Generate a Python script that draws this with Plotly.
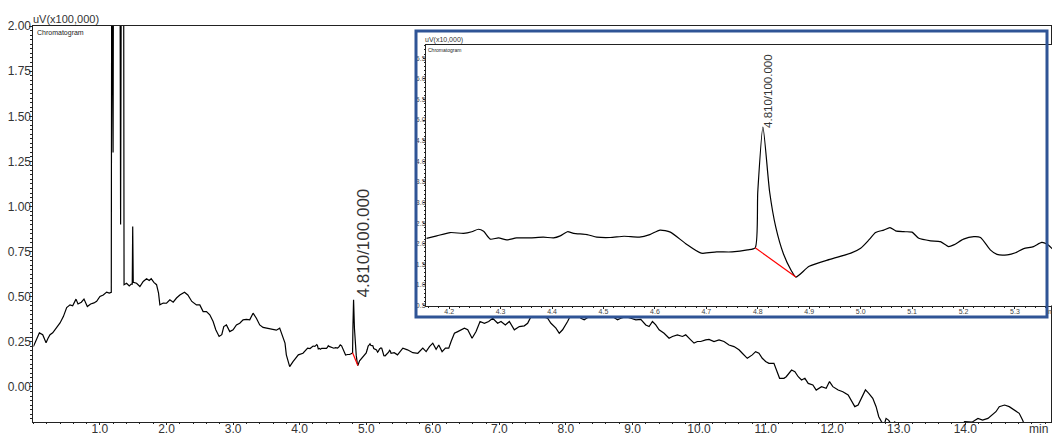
import plotly.graph_objects as go

W, H = 1052, 435


def fx(p):
    return p / W


def fy(p):
    return 1 - p / H


# Retention time (min) and detector signal (uV x 100,000)
time_min = [
    0.00, 0.05, 0.09, 0.14, 0.19, 0.22, 0.25, 0.29, 0.35, 0.40, 0.45, 0.50, 0.55, 0.59,
    0.64, 0.67, 0.72, 0.76, 0.81, 0.86, 0.91, 0.95, 1.00, 1.05, 1.10, 1.14, 1.170,
    1.177, 1.197, 1.204, 1.300, 1.310, 1.322, 1.355, 1.362, 1.40, 1.44, 1.47, 1.485,
    1.492, 1.50, 1.55, 1.60, 1.65, 1.70, 1.74, 1.77, 1.81, 1.85, 1.88, 1.90, 1.95, 2.00,
    2.05, 2.10, 2.15, 2.20, 2.27, 2.32, 2.38, 2.45, 2.50, 2.55, 2.60, 2.65, 2.70, 2.74,
    2.79, 2.83, 2.86, 2.90, 2.95, 3.00, 3.05, 3.10, 3.15, 3.20, 3.25, 3.30, 3.35, 3.40,
    3.45, 3.50, 3.58, 3.65, 3.70, 3.74, 3.78, 3.80, 3.85, 3.90, 3.98, 4.05, 4.12,
    4.156, 4.176, 4.202, 4.228, 4.244, 4.257, 4.267, 4.280, 4.296, 4.312, 4.331, 4.357,
    4.383, 4.403, 4.416, 4.430, 4.442, 4.468, 4.487, 4.513, 4.540, 4.570, 4.590, 4.610,
    4.630, 4.660, 4.690, 4.720, 4.750, 4.780, 4.795, 4.800, 4.810, 4.823, 4.835, 4.850,
    4.865, 4.874, 4.900, 4.940, 4.981, 5.000, 5.016, 5.029, 5.045, 5.057, 5.068, 5.084,
    5.100, 5.113, 5.136, 5.155, 5.171, 5.181, 5.200, 5.220, 5.233, 5.252, 5.265, 5.285,
    5.301, 5.317, 5.336, 5.352, 5.362, 5.373,
    5.42, 5.47, 5.504, 5.55, 5.62, 5.70, 5.775, 5.85, 5.90, 5.95, 6.00, 6.05, 6.09, 6.14,
    6.19, 6.24, 6.275, 6.325, 6.375, 6.425, 6.475, 6.525, 6.59, 6.65, 6.71, 6.775, 6.84,
    6.90, 6.975, 7.025, 7.09, 7.15, 7.225, 7.30, 7.375, 7.425, 7.475, 7.55, 7.60, 7.65,
    7.725, 7.775, 7.85, 7.90, 7.95, 8.025, 8.075, 8.15, 8.225, 8.275, 8.35, 8.45, 8.60,
    8.70, 8.775, 8.825, 8.90, 8.975, 9.05, 9.125, 9.20, 9.25, 9.30, 9.35, 9.40, 9.475,
    9.55, 9.60, 9.675, 9.75, 9.80, 9.875, 9.925, 9.975, 10.025, 10.10, 10.15, 10.225,
    10.30, 10.375, 10.45, 10.525, 10.60, 10.65, 10.725, 10.80, 10.85, 10.90, 10.95,
    11.00, 11.05, 11.125, 11.175, 11.21, 11.275, 11.31, 11.39, 11.44, 11.49, 11.54,
    11.59, 11.64, 11.71, 11.76, 11.84, 11.91, 11.96, 12.01, 12.09, 12.16, 12.24, 12.29,
    12.34, 12.39, 12.44, 12.50, 12.55, 12.61, 12.66, 12.70, 12.74, 12.78, 12.81, 12.85,
    12.90, 12.94, 13.00, 13.30, 13.60, 13.90, 13.99, 14.10, 14.19, 14.26, 14.34, 14.41,
    14.46, 14.51, 14.59, 14.66, 14.74, 14.81, 14.86, 14.89, 14.95,
]

signal = [
    0.224, 0.270, 0.300, 0.290, 0.245, 0.270, 0.290, 0.300, 0.330, 0.355, 0.390, 0.440,
    0.455, 0.450, 0.487, 0.460, 0.470, 0.487, 0.446, 0.460, 0.466, 0.475, 0.502, 0.510,
    0.526, 0.520, 0.525,
    2.600, 1.300, 2.600, 2.600, 0.900, 2.600, 2.600, 0.567, 0.575, 0.560, 0.570, 0.570,
    0.890, 0.580, 0.575, 0.557, 0.585, 0.600, 0.590, 0.600, 0.580, 0.567, 0.520, 0.455,
    0.465, 0.464, 0.483, 0.470, 0.493, 0.510, 0.525, 0.510, 0.474, 0.455, 0.455, 0.418,
    0.418, 0.400, 0.363, 0.317, 0.280, 0.290, 0.335, 0.344, 0.307, 0.317, 0.344, 0.353,
    0.372, 0.375, 0.372, 0.409, 0.381, 0.344, 0.330, 0.326, 0.317, 0.315, 0.326, 0.280,
    0.243, 0.178, 0.113, 0.141, 0.178, 0.187, 0.215,
    0.213, 0.219, 0.227, 0.225, 0.229, 0.235, 0.230, 0.211, 0.214, 0.209, 0.214, 0.214,
    0.216, 0.214, 0.219, 0.229, 0.225, 0.222, 0.216, 0.215, 0.218, 0.216, 0.222, 0.233,
    0.228, 0.200, 0.177, 0.180, 0.180, 0.185, 0.190, 0.326, 0.483, 0.326, 0.240, 0.175,
    0.135, 0.119, 0.145, 0.162, 0.177, 0.189, 0.209, 0.227, 0.233, 0.239, 0.231, 0.229,
    0.228, 0.213, 0.207, 0.205, 0.193, 0.197, 0.211, 0.217, 0.215, 0.185, 0.174, 0.173,
    0.178, 0.188, 0.193, 0.203, 0.199, 0.187,
    0.190, 0.178, 0.196, 0.215, 0.206, 0.190, 0.187, 0.215, 0.196, 0.224, 0.243, 0.209,
    0.233, 0.196, 0.215, 0.215, 0.252, 0.298, 0.307, 0.317, 0.326, 0.317, 0.270, 0.307,
    0.363, 0.353, 0.363, 0.381, 0.353, 0.363, 0.344, 0.363, 0.317, 0.335, 0.339, 0.353,
    0.390, 0.420, 0.430, 0.390, 0.381, 0.353, 0.326, 0.298, 0.317, 0.363, 0.400, 0.420,
    0.381, 0.372, 0.390, 0.390, 0.400, 0.390, 0.372, 0.381, 0.390, 0.381, 0.372, 0.375,
    0.344, 0.335, 0.363, 0.344, 0.317, 0.298, 0.270, 0.280, 0.289, 0.280, 0.289, 0.261,
    0.243, 0.252, 0.252, 0.261, 0.264, 0.252, 0.261, 0.252, 0.233, 0.224, 0.206, 0.187,
    0.159, 0.178, 0.196, 0.187, 0.159, 0.141, 0.131, 0.131, 0.085, 0.048, 0.048, 0.057,
    0.094, 0.085, 0.057, 0.039, 0.048, 0.020, 0.011, -0.017, 0.002, -0.007, 0.030,
    0.002, -0.017, -0.026, -0.044, -0.081, -0.109, -0.100, -0.063, -0.016, -0.035,
    -0.063, -0.109, -0.165, -0.192, -0.210, -0.174, -0.185, -0.215, -0.192, -0.240,
    -0.300, -0.280, -0.230, -0.192, -0.195, -0.174, -0.183, -0.174, -0.155, -0.137,
    -0.109, -0.100, -0.109, -0.128, -0.146, -0.183, -0.210, -0.250,
]

# Integration baseline under the peak
baseline_time = [4.795, 4.874]
baseline_signal = [0.190, 0.119]

# Peak annotation
peak_time = 4.810
peak_signal = 0.483
peak_label = "4.810/100.000"

x_ticks = [1.0, 2.0, 3.0, 4.0, 5.0, 6.0, 7.0, 8.0, 9.0, 10.0, 11.0, 12.0, 13.0, 14.0]

# Zoomed view window (min)
zoom_range = [4.155, 5.372]
zoom_scale = 10  # uV x 100,000 -> uV x 10,000

FONT = "Arial, Liberation Sans, sans-serif"
AX = "#222222"
LBL = "#333333"

fig = go.Figure()

# Full chromatogram
fig.add_trace(go.Scatter(x=time_min, y=signal, mode="lines",
                         line=dict(color="black", width=1.2),
                         xaxis="x", yaxis="y", showlegend=False, hoverinfo="skip"))
fig.add_trace(go.Scatter(x=baseline_time, y=baseline_signal, mode="lines",
                         line=dict(color="red", width=1.2),
                         xaxis="x", yaxis="y", showlegend=False, hoverinfo="skip"))

# Blank panel that holds the zoomed view
fig.add_trace(go.Scatter(x=[], y=[], xaxis="x2", yaxis="y2", showlegend=False))

# Zoomed view of the peak
in_zoom = [zoom_range[0] - 0.01 <= t <= zoom_range[1] + 0.01 for t in time_min]
zoom_t = [t for t, k in zip(time_min, in_zoom) if k]
zoom_s = [s * zoom_scale for s, k in zip(signal, in_zoom) if k]
fig.add_trace(go.Scatter(x=zoom_t, y=zoom_s, mode="lines",
                         line=dict(color="black", width=1.2, shape="spline", smoothing=0.6),
                         xaxis="x3", yaxis="y3", showlegend=False, hoverinfo="skip"))
fig.add_trace(go.Scatter(x=baseline_time, y=[v * zoom_scale for v in baseline_signal], mode="lines",
                         line=dict(color="red", width=1.2),
                         xaxis="x3", yaxis="y3", showlegend=False, hoverinfo="skip"))

fig.update_layout(
    template="none",
    width=W, height=H,
    margin=dict(l=0, r=0, t=0, b=0, autoexpand=False),
    paper_bgcolor="white", plot_bgcolor="white",
    font=dict(family=FONT, color=LBL),
    xaxis=dict(domain=[fx(33.4), fx(1050.5)], range=[0, 15.28], anchor="y", automargin=False,
               tickvals=x_ticks, tickformat=".1f", ticklabelstandoff=-6,
               showline=True, linecolor=AX, linewidth=1, mirror=True,
               ticks="outside", ticklen=2, tickcolor=AX,
               minor=dict(dtick=0.2, tick0=0, ticks="outside", ticklen=1, tickcolor=AX),
               showgrid=False, zeroline=False,
               tickfont=dict(size=12, color=LBL, family=FONT)),
    yaxis=dict(domain=[fy(422), fy(26)], range=[-0.194, 2.0005], anchor="x", automargin=False,
               dtick=0.25, tick0=0, tickformat=".2f", ticklabelstandoff=-4,
               showline=True, linecolor=AX, linewidth=1, mirror=True,
               ticks="outside", ticklen=3, tickcolor=AX,
               minor=dict(dtick=0.025, tick0=0, ticks="outside", ticklen=2, tickcolor=AX),
               showgrid=False, zeroline=False,
               tickfont=dict(size=12, color=LBL, family=FONT)),
    xaxis2=dict(domain=[fx(416), fx(1047)], range=[0, 1], anchor="y2", automargin=False,
                visible=False, showgrid=False, zeroline=False),
    yaxis2=dict(domain=[fy(317), fy(31)], range=[0, 1], anchor="x2", automargin=False,
                visible=False, showgrid=False, zeroline=False),
    xaxis3=dict(domain=[fx(426), 1.0], range=zoom_range, anchor="y3", automargin=False,
                dtick=0.1, tick0=4.2, tickformat=".1f", ticklabelstandoff=-3,
                showline=True, linecolor=AX, linewidth=1, mirror=True,
                ticks="outside", ticklen=2, tickcolor=AX,
                minor=dict(dtick=0.02, tick0=4.2, ticks="outside", ticklen=1, tickcolor=AX),
                showgrid=False, zeroline=False,
                tickfont=dict(size=7, color="#444444", family=FONT)),
    yaxis3=dict(domain=[fy(305.5), fy(45)], range=[0.5, 6.82], anchor="x3", automargin=False,
                dtick=0.5, tick0=0.5, tickformat=".1f", ticklabelstandoff=-4,
                showline=True, linecolor=AX, linewidth=1, mirror=True,
                ticks="outside", ticklen=2, tickcolor=AX,
                minor=dict(dtick=0.1, tick0=0.5, ticks="outside", ticklen=1, tickcolor=AX),
                showgrid=False, zeroline=False,
                tickfont=dict(size=7, color="#444444", family=FONT)),
    shapes=[
        dict(type="rect", xref="paper", yref="paper",
             x0=fx(416), x1=fx(1047), y0=fy(317), y1=fy(31),
             line=dict(color="#2F5496", width=3), fillcolor="rgba(0,0,0,0)", layer="above"),
    ],
    annotations=[
        dict(text="uV(x100,000)", xref="paper", yref="paper", x=fx(31), y=fy(26),
             xanchor="left", yanchor="bottom", showarrow=False, yshift=-1,
             font=dict(size=11, color=LBL, family=FONT)),
        dict(text="Chromatogram", xref="paper", yref="paper", x=fx(35), y=fy(27),
             xanchor="left", yanchor="top", showarrow=False,
             font=dict(size=7, color="#222222", family=FONT)),
        dict(text="min", xref="paper", yref="paper", x=fx(1050), y=fy(421),
             xanchor="right", yanchor="top", showarrow=False, yshift=1,
             font=dict(size=12, color=LBL, family=FONT)),
        dict(text=peak_label, xref="x", yref="y", x=peak_time, y=peak_signal,
             xanchor="left", yanchor="bottom", textangle=-90, showarrow=False,
             xshift=-2, font=dict(size=17, color=LBL, family=FONT)),
        dict(text="uV(x10,000)", xref="paper", yref="paper", x=fx(423), y=fy(45),
             xanchor="left", yanchor="bottom", showarrow=False, yshift=-1,
             font=dict(size=7, color=LBL, family=FONT)),
        dict(text="Chromatogram", xref="paper", yref="paper", x=fx(426), y=fy(45),
             xanchor="left", yanchor="top", showarrow=False,
             font=dict(size=5, color="#222222", family=FONT)),
        dict(text="min", xref="paper", yref="paper", x=fx(1046), y=fy(305.5),
             xanchor="left", yanchor="top", showarrow=False,
             font=dict(size=7, color="#444444", family=FONT)),
        dict(text=peak_label, xref="x3", yref="y3", x=peak_time, y=peak_signal * zoom_scale,
             xanchor="left", yanchor="bottom", textangle=-90, showarrow=False,
             xshift=-3, yshift=-3, font=dict(size=11.5, color=LBL, family=FONT)),
    ],
)

fig.write_html("out.html")
